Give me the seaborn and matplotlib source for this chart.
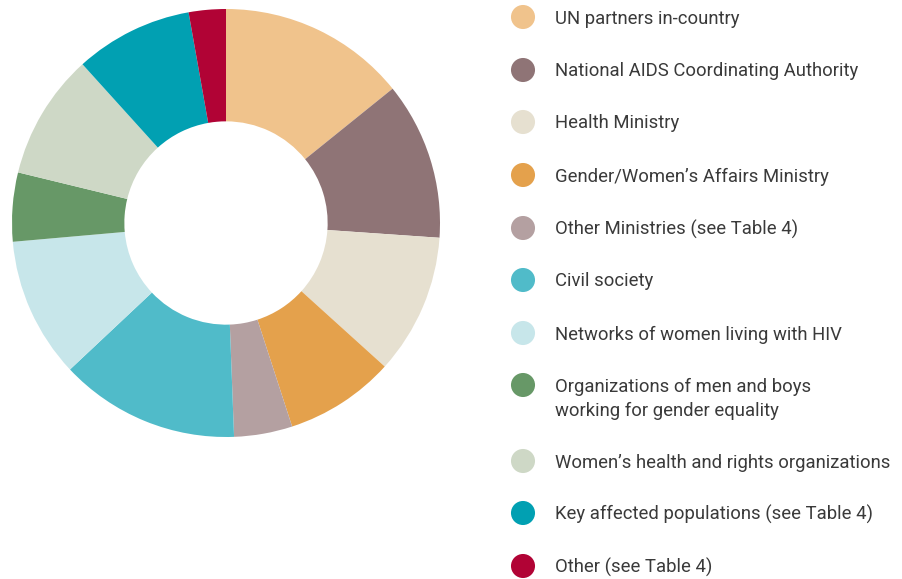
import matplotlib
matplotlib.use("Agg")
import matplotlib.pyplot as plt
import seaborn as sns

categories = [
    "UN partners in-country",
    "National AIDS Coordinating Authority",
    "Health Ministry",
    "Gender/Women\u2019s Affairs Ministry",
    "Other Ministries (see Table 4)",
    "Civil society",
    "Networks of women living with HIV",
    "Organizations of men and boys\nworking for gender equality",
    "Women\u2019s health and rights organizations",
    "Key affected populations (see Table 4)",
    "Other (see Table 4)",
]
values = [14.2, 11.9, 10.6, 8.3, 4.4, 13.6, 10.6, 5.2, 9.5, 8.9, 2.8]
colors = ["#F0C38C", "#8F7476", "#E6E0D0", "#E4A14C", "#B4A0A1", "#50BBC9",
          "#C7E6EA", "#679867", "#CED8C6", "#01A0B2", "#B10335"]

sns.set_theme(style="white")
plt.rcParams["font.family"] = ["Roboto", "DejaVu Sans"]

W, H = 902, 579
fig = plt.figure(figsize=(W / 100, H / 100), dpi=100)

# donut
cx, cy, r = 226, 223, 214
ax = fig.add_axes([(cx - r) / W, (H - cy - r) / H, 2 * r / W, 2 * r / H])
ax.pie(values, colors=colors, startangle=90, counterclock=False, radius=1,
       wedgeprops=dict(width=0.525, edgecolor="none", linewidth=0))
ax.set_xlim(-1, 1)
ax.set_ylim(-1, 1)
ax.set_aspect("equal")
ax.axis("off")

# legend
lax = fig.add_axes([0, 0, 1, 1])
ys = [17, 70, 122, 175, 228, 280, 333, 385, 461, 513, 566]
sns.scatterplot(x=[523] * len(ys), y=ys, hue=categories, palette=colors,
                s=300, linewidth=0, legend=False, ax=lax)
lax.set_xlim(0, W)
lax.set_ylim(H, 0)
lax.axis("off")
for y, lab in zip(ys, categories):
    for i, line in enumerate(lab.split("\n")):
        lax.text(555, y + 1.5 + i * 24, line, fontsize=13.3, color="#3a3a3a",
                 va="center", ha="left")

fig.savefig("out.png", dpi=100)
